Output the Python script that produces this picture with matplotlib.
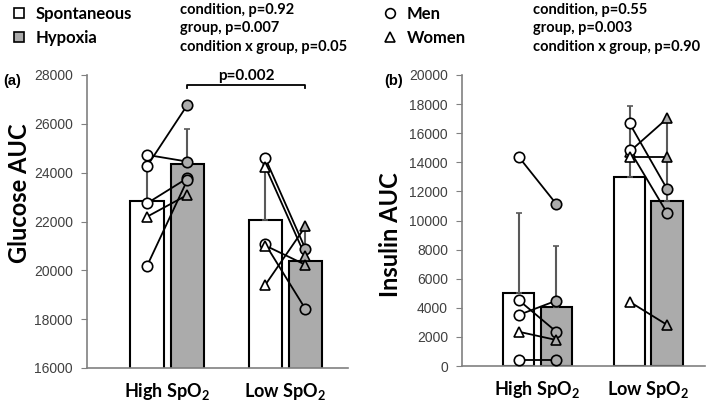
import numpy as np
import matplotlib
matplotlib.use("Agg")
import matplotlib.pyplot as plt
from matplotlib.lines import Line2D

plt.rcParams['mathtext.fontset'] = 'custom'
plt.rcParams['mathtext.rm'] = 'Lato:bold'
plt.rcParams['mathtext.bf'] = 'Lato:bold'

# Data
groups = ["High SpO$_2$", "Low SpO$_2$"]
# marker per subject: o = men, ^ = women
high_sex = ["o", "o", "o", "o", "^"]
low_sex = ["o", "^", "o", "^", "^"]

glu_high_spon = [24727, 24277, 22750, 20197, 22200]
glu_high_hyp = [24453, 26773, 23774, 23704, 23090]
glu_low_spon = [24590, 24250, 21073, 21016, 19407]
glu_low_hyp = [20870, 20570, 18413, 20225, 21800]

ins_high_spon = [14386, 4536, 3505, 412, 2357]
ins_high_hyp = [11134, 2357, 4490, 412, 1787]
ins_low_spon = [16680, 14730, 14845, 14385, 4420]
ins_low_hyp = [12144, 17024, 10495, 14385, 2818]

glu_stats = ["condition, p=0.92", "group, p=0.007", "condition x group, p=0.05"]
ins_stats = ["condition, p=0.55", "group, p=0.003", "condition x group, p=0.90"]

WHITE = "white"
GREY = "#ababab"
off, bw = 0.17, 0.285

fig = plt.figure(figsize=(7.09, 4.05), dpi=100)
ax1 = fig.add_axes([87/709, 1-368/405, 261/709, 293/405])
ax2 = fig.add_axes([462/709, 1-366/405, 243/709, 291/405])


def draw_panel(ax, data, sexes):
    for gi, (spon, hyp) in enumerate(data):
        spon, hyp = np.array(spon), np.array(hyp)
        xs, xh = gi - off, gi + off
        for x, vals, fc in [(xs, spon, WHITE), (xh, hyp, GREY)]:
            m, sd = vals.mean(), vals.std(ddof=1)
            ax.bar(x, m, bw, color=fc, edgecolor="black", linewidth=1.5, zorder=1)
            ax.errorbar(x, m, yerr=[[0], [sd]], fmt="none", ecolor="#595959",
                        elinewidth=1.5, capsize=2, capthick=1.2, zorder=2)
        for a, b, mk in zip(spon, hyp, sexes[gi]):
            ax.plot([xs, xh], [a, b], color="black", lw=1.3, zorder=3)
            ax.plot(xs, a, marker=mk, ms=7.5, mfc=WHITE, mec="black", mew=1.2, zorder=4)
            ax.plot(xh, b, marker=mk, ms=7.5, mfc=GREY, mec="black", mew=1.2, zorder=4)
    ax.set_xticks([0, 1])
    ax.set_xticklabels(groups, fontsize=13, fontfamily="Lato", fontweight="bold")
    ax.tick_params(axis="x", length=0, pad=9)
    ax.tick_params(axis="y", length=4, color="#808080", labelsize=10, labelcolor="#404040", pad=6)
    for s in ["top", "right"]:
        ax.spines[s].set_visible(False)
    for s in ["left", "bottom"]:
        ax.spines[s].set_color("#808080")
        ax.spines[s].set_linewidth(1.2)


draw_panel(ax1, [(glu_high_spon, glu_high_hyp), (glu_low_spon, glu_low_hyp)], [high_sex, low_sex])
ax1.set_ylim(16000, 28000)
ax1.set_yticks(np.arange(16000, 28001, 2000))
ax1.set_xlim(-0.68, 1.53)

draw_panel(ax2, [(ins_high_spon, ins_high_hyp), (ins_low_spon, ins_low_hyp)], [high_sex, low_sex])
ax2.set_ylim(0, 20000)
ax2.set_yticks(np.arange(0, 20001, 2000))
ax2.set_xlim(-0.68, 1.51)

for lab in ax1.get_yticklabels() + ax2.get_yticklabels():
    lab.set_fontfamily("Liberation Sans")

# significance bracket
bx0, bx1, by = off, 1 + off, 27600
ax1.plot([bx0, bx0, bx1, bx1], [by - 150, by, by, by - 150], color="black", lw=1.3, clip_on=False)
ax1.text((bx0 + bx1) / 2, by + 60, "p=0.002", ha="center", va="bottom",
         fontsize=11, fontfamily="Lato", fontweight="bold")

# axis labels
fig.text(20/709, 1-193/405, "Glucose AUC", rotation=90, ha="center", va="center",
         fontsize=17, fontfamily="Lato", fontweight="bold")
fig.text(390/709, 1-235/405, "Insulin AUC", rotation=90, ha="center", va="center",
         fontsize=17, fontfamily="Lato", fontweight="bold")
fig.text(3/709, 1-81/405, "(a)", fontsize=10.5, fontfamily="Liberation Sans", fontweight="bold", va="center")
fig.text(384/709, 1-81/405, "(b)", fontsize=10.5, fontfamily="Liberation Sans", fontweight="bold", va="center")

# legends
leg_kw = dict(loc="upper left", frameon=False, handletextpad=0.5, labelspacing=0.5,
              handlelength=1.0, borderpad=0, borderaxespad=0,
              prop={"family": "Lato", "weight": "bold", "size": 12})
h_cond = [Line2D([], [], ls="none", marker="s", ms=6.5, mfc=WHITE, mec="black", mew=1.2),
          Line2D([], [], ls="none", marker="s", ms=6.5, mfc=GREY, mec="black", mew=1.2)]
fig.legend(h_cond, ["Spontaneous", "Hypoxia"], bbox_to_anchor=(11/709, 1-6/405), **leg_kw)
h_sex = [Line2D([], [], ls="none", marker="o", ms=7, mfc=WHITE, mec="black", mew=1.2),
         Line2D([], [], ls="none", marker="^", ms=7, mfc=WHITE, mec="black", mew=1.2)]
fig.legend(h_sex, ["Men", "Women"], bbox_to_anchor=(382/709, 1-6/405), **leg_kw)

for xp, lines in [(180/709, glu_stats), (533/709, ins_stats)]:
    fig.text(xp, 1-3/405, "\n".join(lines), ha="left", va="top", fontsize=10.5,
             fontfamily="Lato", fontweight="bold", linespacing=1.4)

fig.savefig("out.png", dpi=100)
